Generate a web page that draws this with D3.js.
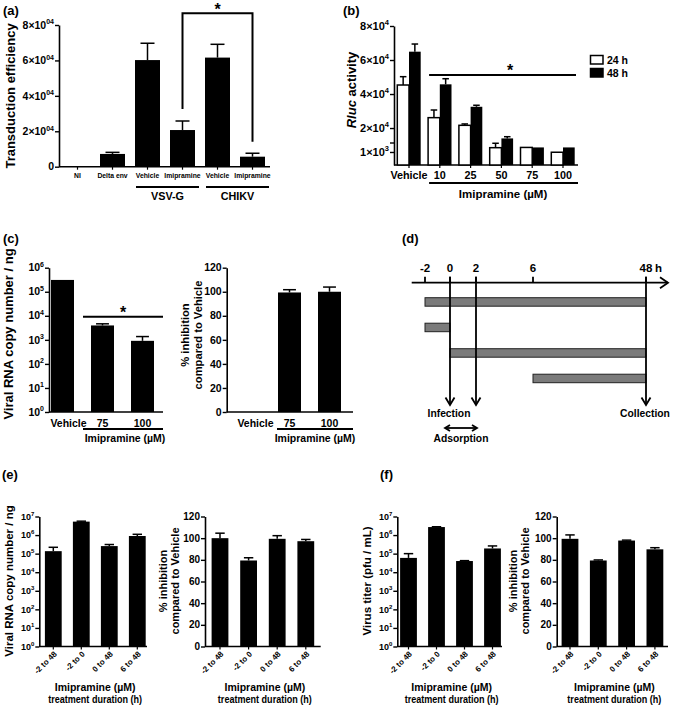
<!DOCTYPE html>
<html><head><meta charset="utf-8">
<script src="https://cdn.jsdelivr.net/npm/d3@7"></script>
<style>
body{margin:0;background:#fff}
svg{display:block}
text{font-family:"Liberation Sans",Arial,sans-serif;font-weight:bold;fill:#000}
</style>
</head><body>
<svg id="chart" width="675" height="708"></svg>
<script>
// ---------- DATA ----------
// (a)
const aCategories = ["NI","Delta env","Vehicle","Imipramine","Vehicle","Imipramine"];
const aValues = [0, 7200, 60200, 20700, 61600, 5650];
const aErrUpper = [0, 8100, 69700, 25800, 69100, 7600];
const aTicks = [0, 20000, 40000, 60000, 80000];
const aTickLabels = [["0",""],["2×10","04"],["4×10","04"],["6×10","04"],["8×10","04"]];
const aGroups = ["VSV-G","CHIKV"];
const aGroupFirst = [2, 4];
const aGroupLast = [3, 5];
// (b)
const bCategories = ["Vehicle","10","25","50","75","100"];
const bSeries = ["24 h","48 h"];
const b24Values = [45300, 26100, 21600, 1330, 1350, 980];
const b24ErrUpper = [50200, 30600, 22400, 1670, 1350, 980];
const b48Values = [64900, 45700, 32500, 13900, 1350, 1350];
const b48ErrUpper = [69400, 49000, 33400, 14900, 1350, 1350];
const bTicks = [1000, 20000, 40000, 60000, 80000];
const bTickLabels = [["1×10","3"],["2×10","4"],["4×10","4"],["6×10","4"],["8×10","4"]];
// (c)
const cCategories = ["Vehicle","75","100"];
const cCopyValues = [310000, 3970, 910];
const cCopyErrUpper = [310000, 4640, 1370];
const cInhibValues = [0, 99.4, 100];
const cInhibErrUpper = [0, 101.7, 103.9];
const logTicks6 = [1,10,100,1000,1e4,1e5,1e6];
const logTickLabels6 = [["10","0"],["10","1"],["10","2"],["10","3"],["10","4"],["10","5"],["10","6"]];
const pctTicks = [0,20,40,60,80,100,120];
// (d)
const dTicks = [-2, 0, 2, 6, 48];
const dTickLabels = ["-2","0","2","6","48"];
const dTreatStart = [-2, -2, 0, 6];
const dTreatEnd = [48, 0, 48, 48];
const dEventTimes = [0, 2, 48];
const dEventLabels = ["Infection", "", "Collection"];
// (e)
const eCategories = ["-2 to 48","-2 to 0","0 to 48","6 to 48"];
const eCopyValues = [136000, 5300000, 255000, 890000];
const eCopyErrUpper = [220000, 5600000, 310000, 1100000];
const eInhibValues = [100, 79.4, 99.4, 97.2];
const eInhibErrUpper = [104.6, 81.9, 102.3, 98.8];
const logTicks7 = [1,10,100,1000,1e4,1e5,1e6,1e7];
const logTickLabels7 = [["10","0"],["10","1"],["10","2"],["10","3"],["10","4"],["10","5"],["10","6"],["10","7"]];
// (f)
const fTiterValues = [59000, 2700000, 40000, 190000];
const fTiterErrUpper = [100000, 2800000, 42000, 260000];
const fInhibValues = [99.4, 79.4, 97.8, 89.7];
const fInhibErrUpper = [103, 79.9, 98.2, 91.2];

// ---------- HELPERS ----------
const svg = d3.select("#chart");
svg.append("rect").attr("width",675).attr("height",708).attr("fill","#fff");

function band(n, firstCenter, step, bw) {
  const p = 1 - bw/step;
  return d3.scaleBand().domain(d3.range(n))
    .range([firstCenter - step/2, firstCenter - step/2 + n*step])
    .paddingInner(p).paddingOuter(p/2);
}

function yAxis(g, y, axisX, ticks, labels, fs, sfs) {
  const ax = g.append("g").attr("transform", `translate(${axisX},0)`)
    .call(d3.axisLeft(y).tickValues(ticks).tickSize(4).tickSizeOuter(0).tickFormat(""));
  ax.select(".domain").attr("stroke","#000").attr("stroke-width",1.6);
  ax.selectAll(".tick line").attr("stroke","#000").attr("stroke-width",1.4);
  ticks.forEach((t,i) => {
    const tx = g.append("text").attr("x", axisX - 5).attr("y", y(t)).attr("dy","0.35em")
      .attr("text-anchor","end").attr("font-size", fs);
    tx.append("tspan").text(labels[i][0]);
    if (labels[i][1]) tx.append("tspan").attr("dy", -fs*0.42).attr("font-size", sfs).text(labels[i][1]);
  });
}
function xAxisLine(g, x0, x1, yb, centers) {
  g.append("line").attr("x1", x0).attr("x2", x1).attr("y1", yb).attr("y2", yb)
    .attr("stroke","#000").attr("stroke-width",1.6);
  centers.forEach(c => g.append("line").attr("x1",c).attr("x2",c).attr("y1",yb).attr("y2",yb+3)
    .attr("stroke","#000").attr("stroke-width",1.2));
}
function bars(g, x, y, values, errs, fill) {
  const bw = x.bandwidth();
  values.forEach((v,i) => {
    const xb = x(i);
    const y0 = y.range()[0];
    g.append("rect").attr("x", xb).attr("y", y(v)).attr("width", bw)
      .attr("height", Math.max(0, y0 - y(v)))
      .attr("fill", fill).attr("stroke","#000").attr("stroke-width", fill === "#fff" ? 1.5 : 0);
    if (errs[i] > v) {
      const cx = xb + bw/2;
      g.append("line").attr("x1",cx).attr("x2",cx).attr("y1",y(v)).attr("y2",y(errs[i]))
        .attr("stroke","#000").attr("stroke-width",1.5);
      g.append("line").attr("x1",cx - bw*0.28).attr("x2",cx + bw*0.28).attr("y1",y(errs[i])).attr("y2",y(errs[i]))
        .attr("stroke","#000").attr("stroke-width",1.5);
    }
  });
}
function yLabel(g, x, y, lines, fs) {
  const t = g.append("text").attr("transform", `translate(${x},${y}) rotate(-90)`)
    .attr("text-anchor","middle").attr("font-size", fs);
  lines.forEach((l,i) => {
    t.append("tspan").attr("x",0).attr("dy", i===0 ? (lines.length===1 ? "0.35em" : (-(lines.length-1)*0.55+0.35)+"em") : "1.1em").text(l);
  });
  return t;
}
function star(g, x, y) {
  g.append("text").attr("x", x).attr("y", y).attr("text-anchor","middle").attr("font-size",16).text("*");
}
function panelLabel(x, y, s) {
  svg.append("text").attr("x", x).attr("y", y).attr("font-size", 13).text(s);
}

// ---------- (a) ----------
{
  const g = svg.append("g");
  const y = d3.scaleLinear().domain([0, 80000]).range([166.7, 25]);
  const x = band(aCategories.length, 77.5, 35, 25);
  yAxis(g, y, 59, aTicks, aTickLabels, 10.5, 7);
  xAxisLine(g, 59, 270, 166.7, aCategories.map((c,i)=>x(i)+x.bandwidth()/2));
  bars(g, x, y, aValues, aErrUpper, "#000");
  aCategories.forEach((c,i) => g.append("text").attr("x", x(i)+x.bandwidth()/2).attr("y",177.5)
    .attr("text-anchor","middle").attr("font-size",6.8).text(c));
  aGroups.forEach((gname,k) => {
    const x0 = x(aGroupFirst[k]) + 1, x1 = x(aGroupLast[k]) + x.bandwidth() + 4;
    g.append("line").attr("x1",x0).attr("x2",x1).attr("y1",187).attr("y2",187).attr("stroke","#000").attr("stroke-width",1.8);
    g.append("text").attr("x",(x0+x1)/2).attr("y",200).attr("text-anchor","middle").attr("font-size",10.8).text(gname);
  });
  const c1 = x(3)+x.bandwidth()/2, c2 = x(5)+x.bandwidth()/2;
  g.append("path").attr("d", `M${c1},109V13.3H${c2}V141.7`).attr("fill","none").attr("stroke","#000").attr("stroke-width",2);
  star(g, (c1+c2)/2, 14.5);
  yLabel(g, 10, 96, ["Transduction efficiency"], 13);
  panelLabel(3, 15, "(a)");
}

// ---------- (b) ----------
{
  const g = svg.append("g");
  const y = d3.scaleLinear().domain([0, 1690, 11200, 80000]).range([165, 143, 143, 26]);
  const x = band(bCategories.length, 409, 30.8, 23.4);
  const xs = d3.scaleBand().domain(bSeries).range([0, x.bandwidth()]);
  yAxis(g, y, 394, bTicks, bTickLabels, 11, 7.5);
  g.append("line").attr("x1",390).attr("x2",394).attr("y1",143).attr("y2",143).attr("stroke","#000").attr("stroke-width",1.4);
  xAxisLine(g, 394, 578, 165, bCategories.map((c,i)=>x(i)+x.bandwidth()/2));
  function seriesBars(vals, errs, fill, key) {
    const wrap = i => x(i) + xs(key);
    wrap.bandwidth = () => xs.bandwidth();
    bars(g, wrap, y, vals, errs, fill);
  }
  seriesBars(b24Values, b24ErrUpper, "#fff", bSeries[0]);
  seriesBars(b48Values, b48ErrUpper, "#000", bSeries[1]);
  bCategories.forEach((c,i) => g.append("text").attr("x", x(i)+x.bandwidth()/2).attr("y",178.5)
    .attr("text-anchor","middle").attr("font-size",10.8).text(c));
  g.append("line").attr("x1", x(1)+1).attr("x2",578).attr("y1",183).attr("y2",183).attr("stroke","#000").attr("stroke-width",1.8);
  g.append("text").attr("x", (x(1)+578)/2).attr("y",197.5).attr("text-anchor","middle").attr("font-size",11.5).text("Imipramine (µM)");
  g.append("line").attr("x1", x(1)+1).attr("x2",576).attr("y1",75).attr("y2",75).attr("stroke","#000").attr("stroke-width",2);
  star(g, 510, 76);
  bSeries.forEach((s,i) => {
    g.append("rect").attr("x",590.5).attr("y",55.5 + i*13).attr("width",12.5).attr("height",8.5)
      .attr("fill", i===0 ? "#fff" : "#000").attr("stroke","#000").attr("stroke-width",1.5);
    g.append("text").attr("x",607).attr("y",63.5 + i*13).attr("font-size",10.5).text(s);
  });
  const t = g.append("text").attr("transform","translate(351,90) rotate(-90)").attr("text-anchor","middle")
    .attr("dy","0.35em").attr("font-size",13);
  t.append("tspan").attr("font-style","italic").text("Rluc");
  t.append("tspan").text(" activity");
  panelLabel(343, 15, "(b)");
}

// ---------- (c) ----------
{
  const g = svg.append("g");
  const yTop = 267.7, yBot = 412;
  const yl = d3.scaleLog().domain([1, 1e6]).range([yBot, yTop]);
  const xl = band(cCategories.length, 62.5, 40, 23);
  yAxis(g, yl, 49, logTicks6, logTickLabels6, 10.5, 7);
  xAxisLine(g, 49, 163, yBot, []);
  bars(g, xl, yl, cCopyValues, cCopyErrUpper, "#000");
  cCategories.forEach((c,i) => g.append("text").attr("x", xl(i)+xl.bandwidth()/2 + (i===0?6:0)).attr("y",427)
    .attr("text-anchor","middle").attr("font-size",10.5).text(c));
  g.append("line").attr("x1", xl(1)-8).attr("x2",163).attr("y1",316.7).attr("y2",316.7).attr("stroke","#000").attr("stroke-width",2);
  star(g, (xl(1)-8+163)/2, 317.5);
  g.append("line").attr("x1", xl(1)-8).attr("x2",163).attr("y1",429).attr("y2",429).attr("stroke","#000").attr("stroke-width",1.8);
  g.append("text").attr("x", (xl(1)-8+163)/2+2).attr("y",441.5).attr("text-anchor","middle").attr("font-size",10.5).text("Imipramine (µM)");
  yLabel(g, 8, 334, ["Viral RNA copy number / ng"], 13);
  const yr = d3.scaleLinear().domain([0, 120]).range([yBot, yTop]);
  const xr = band(cCategories.length, 249.5, 40, 23);
  yAxis(g, yr, 226.7, pctTicks, pctTicks.map(t=>[String(t),""]), 10.5, 7);
  xAxisLine(g, 226.7, 353, yBot, []);
  bars(g, xr, yr, cInhibValues, cInhibErrUpper, "#000");
  cCategories.forEach((c,i) => g.append("text").attr("x", xr(i)+xr.bandwidth()/2 + (i===0?6:0)).attr("y",427)
    .attr("text-anchor","middle").attr("font-size",10.5).text(c));
  g.append("line").attr("x1", xr(1)-1).attr("x2",353).attr("y1",429).attr("y2",429).attr("stroke","#000").attr("stroke-width",1.8);
  g.append("text").attr("x", (xr(1)-1+353)/2).attr("y",441.5).attr("text-anchor","middle").attr("font-size",10.5).text("Imipramine (µM)");
  yLabel(g, 191.5, 335, ["% inhibition","compared to Vehicle"], 11.2);
  panelLabel(3, 243, "(c)");
}

// ---------- (d) ----------
{
  const g = svg.append("g");
  const x = d3.scaleLinear().domain(dTicks).range([425, 450, 476, 533, 646]);
  const axisY = 282.7;
  const rows = d3.scaleBand().domain(d3.range(dTreatStart.length)).range([297.7, 382.7]).paddingInner(0.667).paddingOuter(0);
  const ln = (d) => g.append("path").attr("d", d).attr("stroke","#000").attr("stroke-width",1.8).attr("fill","none");
  ln(`M411.7,${axisY}H668`);
  ln(`M660,${axisY-5.5}L668,${axisY}L660,${axisY+5.5}`);
  dTicks.forEach((t,i) => {
    ln(`M${x(t)},${axisY-6}V${axisY}`);
    g.append("text").attr("x", x(t)).attr("y", 272).attr("text-anchor","middle").attr("font-size",11.5).text(dTickLabels[i]);
  });
  g.append("text").attr("x", x(48)+9).attr("y",272).attr("font-size",11.5).text("h");
  dTreatStart.forEach((s,i) => {
    g.append("rect").attr("x", x(s)).attr("y", rows(i)).attr("width", x(dTreatEnd[i]) - x(s))
      .attr("height", rows.bandwidth()).attr("fill","#7b7b7b").attr("stroke","#222").attr("stroke-width",1);
  });
  dEventTimes.forEach((t,i) => {
    ln(`M${x(t)},${axisY-6}V405`);
    ln(`M${x(t)-4.5},397.5L${x(t)},405L${x(t)+4.5},397.5`);
    if (dEventLabels[i]) g.append("text").attr("x", x(t)-1).attr("y",417).attr("text-anchor","middle").attr("font-size",10.3).text(dEventLabels[i]);
  });
  const a0 = x(0)-5, a1 = x(2)+1;
  ln(`M${a0},428H${a1}`);
  ln(`M${a0+5},425L${a0},428L${a0+5},431`);
  ln(`M${a1-5},425L${a1},428L${a1-5},431`);
  g.append("text").attr("x", (a0+a1)/2).attr("y",442).attr("text-anchor","middle").attr("font-size",10.3).text("Adsorption");
  panelLabel(402, 243, "(d)");
}

// ---------- (e) & (f) ----------
function bottomPanel(opt) {
  const g = svg.append("g");
  const yTop = 516.5, yBot = 646.5;
  const y = opt.log ? d3.scaleLog().domain([1, 1e7]).range([yBot, yTop]) : d3.scaleLinear().domain([0,120]).range([yBot, yTop]);
  const x = band(eCategories.length, opt.first, opt.step, 16.8);
  if (opt.log) yAxis(g, y, opt.axisX, logTicks7, logTickLabels7, 9, 6);
  else yAxis(g, y, opt.axisX, pctTicks, pctTicks.map(t=>[String(t),""]), 10, 7);
  const centers = eCategories.map((c,i)=>x(i)+x.bandwidth()/2);
  xAxisLine(g, opt.axisX, opt.axisEnd, yBot, centers);
  bars(g, x, y, opt.values, opt.errs, "#000");
  eCategories.forEach((c,i) => g.append("text")
    .attr("transform", `translate(${centers[i]+4},${yBot+8}) rotate(-45)`)
    .attr("text-anchor","end").attr("font-size",8).text(c));
  const mid = (opt.axisX + opt.axisEnd)/2 + 2;
  g.append("text").attr("x", mid).attr("y", 690.5).attr("text-anchor","middle").attr("font-size",10.5).text("Imipramine (µM)");
  g.append("text").attr("x", mid).attr("y", 703).attr("text-anchor","middle").attr("font-size",10.5)
    .attr("textLength", 94).attr("lengthAdjust","spacingAndGlyphs").text("treatment duration (h)");
  yLabel(g, opt.labX, 581, opt.ylabel, opt.labFs);
}
bottomPanel({log:true, axisX:39.3, axisEnd:147, first:53.3, step:28, values:eCopyValues, errs:eCopyErrUpper, labX:9, ylabel:["Viral RNA copy number / ng"], labFs:11.5});
bottomPanel({log:false, axisX:205, axisEnd:320.7, first:220, step:28.6, values:eInhibValues, errs:eInhibErrUpper, labX:169.5, ylabel:["% inhibition","compared to Vehicle"], labFs:11});
bottomPanel({log:true, axisX:397.3, axisEnd:502, first:408.5, step:28, values:fTiterValues, errs:fTiterErrUpper, labX:367, ylabel:["Virus titer (pfu / mL)"], labFs:11.5});
bottomPanel({log:false, axisX:556.7, axisEnd:668, first:570, step:28.3, values:fInhibValues, errs:fInhibErrUpper, labX:519.5, ylabel:["% inhibition","compared to Vehicle"], labFs:11});
panelLabel(2, 479, "(e)");
panelLabel(380, 479, "(f)");
</script>
</body></html>
